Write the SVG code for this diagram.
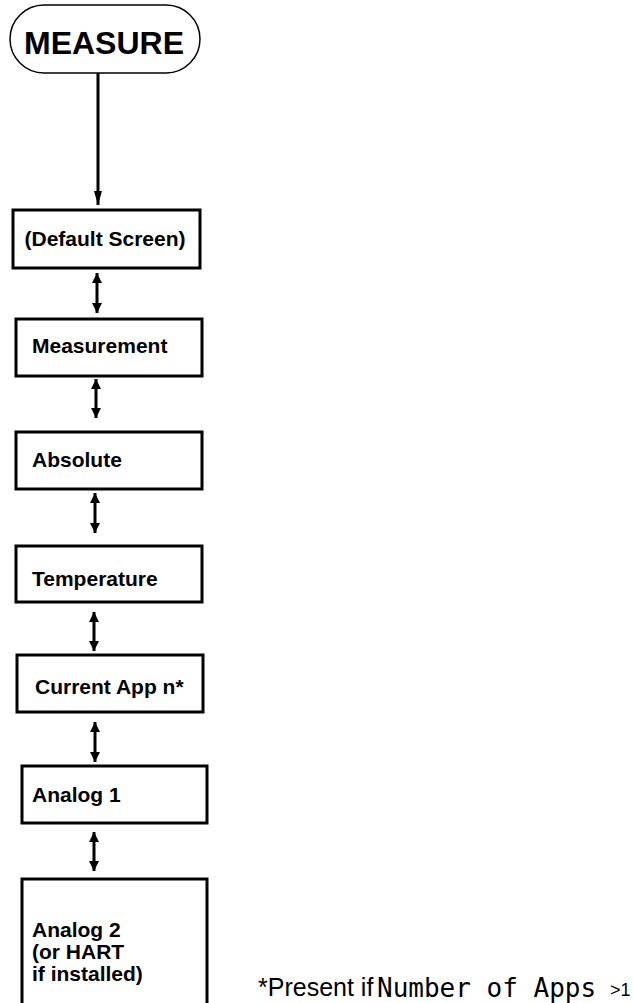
<svg xmlns="http://www.w3.org/2000/svg" width="634" height="1003" viewBox="0 0 634 1003">
<style>
.box{fill:#fff;stroke:#000;stroke-width:3}
.lbl{font-family:"Liberation Sans",Arial,sans-serif;font-weight:bold;font-size:21px;fill:#000}
.con{stroke:#000;stroke-width:3;fill:none}
</style>
<defs>
<marker id="ah" viewBox="0 0 10 14" refX="10" refY="7" markerWidth="10" markerHeight="14" markerUnits="userSpaceOnUse" orient="auto-start-reverse">
<path d="M0,2 L10,7 L0,12 Z" fill="#000"/>
</marker>
<marker id="ahs" viewBox="0 0 14 10" refX="14" refY="5" markerWidth="14" markerHeight="10" markerUnits="userSpaceOnUse" orient="auto-start-reverse">
<path d="M0,1 L14,5 L0,9 Z" fill="#000"/>
</marker>
</defs>
<g id="measure">
<rect x="10" y="5" width="190" height="68" rx="34" ry="34" fill="#fff" stroke="#000" stroke-width="1.5"/>
<text x="104" y="54" text-anchor="middle" font-family="Liberation Sans,Arial,sans-serif" font-weight="bold" font-size="32">MEASURE</text>
</g>
<g id="default"><rect class="box" x="13" y="210" width="187" height="58"/><text class="lbl" x="105" y="246" text-anchor="middle">(Default Screen)</text></g>
<g id="measurement"><rect class="box" x="16" y="319" width="186" height="57"/><text class="lbl" x="32" y="353">Measurement</text></g>
<g id="absolute"><rect class="box" x="16" y="432" width="186" height="57"/><text class="lbl" x="32" y="467">Absolute</text></g>
<g id="temperature"><rect class="box" x="16" y="546" width="186" height="56"/><text class="lbl" x="32" y="586">Temperature</text></g>
<g id="currentapp"><rect class="box" x="17" y="655" width="186" height="57"/><text class="lbl" x="35" y="694">Current App n*</text></g>
<g id="analog1"><rect class="box" x="22" y="766" width="185" height="57"/><text class="lbl" x="32" y="802">Analog 1</text></g>
<g id="analog2"><rect class="box" x="22" y="879" width="185" height="140"/>
<text class="lbl" x="32" y="937">Analog 2</text>
<text class="lbl" x="32" y="959">(or HART</text>
<text class="lbl" x="32" y="981">if installed)</text></g>
<g id="connectors">
<line class="con" x1="98" y1="73" x2="98" y2="205" marker-end="url(#ahs)"/>
<line class="con" x1="97" y1="273" x2="97" y2="313" marker-start="url(#ah)" marker-end="url(#ah)"/>
<line class="con" x1="96" y1="379" x2="96" y2="418" marker-start="url(#ah)" marker-end="url(#ah)"/>
<line class="con" x1="95" y1="493" x2="95" y2="533" marker-start="url(#ah)" marker-end="url(#ah)"/>
<line class="con" x1="94" y1="612" x2="94" y2="651" marker-start="url(#ah)" marker-end="url(#ah)"/>
<line class="con" x1="95" y1="722" x2="95" y2="762" marker-start="url(#ah)" marker-end="url(#ah)"/>
<line class="con" x1="94" y1="832" x2="94" y2="871" marker-start="url(#ah)" marker-end="url(#ah)"/>
</g>
<g id="footnote">
<text x="258" y="996" font-family="Liberation Sans,Arial,sans-serif" font-size="25">*Present if</text>
<text x="377" y="997" font-family="DejaVu Sans Mono,monospace" font-size="26">Number of Apps</text>
<text x="610" y="996" font-family="Liberation Sans,Arial,sans-serif" font-size="18">&gt;1</text>
</g>
</svg>
